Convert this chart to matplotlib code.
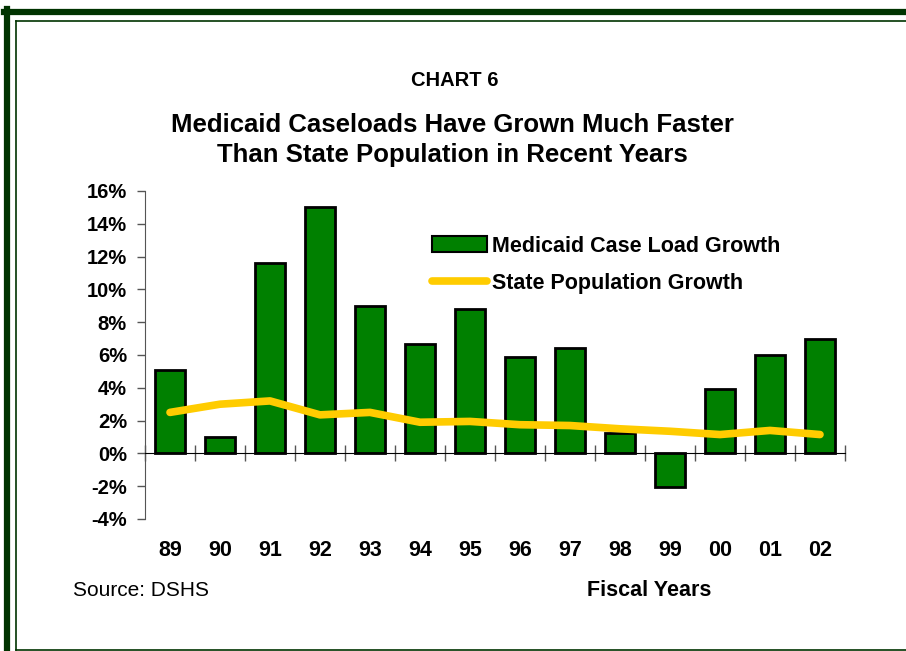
import numpy as np
import matplotlib
matplotlib.use("Agg")
import matplotlib.pyplot as plt
from matplotlib.lines import Line2D
from matplotlib.patches import Patch
import matplotlib.transforms as mtransforms

plt.rcParams['font.family'] = ['Liberation Sans', 'DejaVu Sans']

# data
years = ["89", "90", "91", "92", "93", "94", "95", "96", "97", "98", "99", "00", "01", "02"]
caseload_growth = [5.1, 1.0, 11.6, 15.0, 9.0, 6.7, 8.8, 5.85, 6.45, 1.25, -2.05, 3.95, 6.0, 6.95]
population_growth = [2.5, 3.0, 3.2, 2.35, 2.5, 1.9, 1.95, 1.75, 1.7, 1.5, 1.35, 1.15, 1.4, 1.15]
y_ticks = [-4, -2, 0, 2, 4, 6, 8, 10, 12, 14, 16]

fig = plt.figure(figsize=(9.06, 6.51), dpi=100)
W, H = 906, 651

# frame around the chart
dark = "#003300"
fig.add_artist(Line2D([4 / W, 1], [1 - 12 / H, 1 - 12 / H], color=dark, lw=4.5, transform=fig.transFigure))
fig.add_artist(Line2D([7 / W, 7 / W], [0, 1 - 9 / H], color=dark, lw=4.5, transform=fig.transFigure))
fig.add_artist(Line2D([15.5 / W, 1], [1 - 20.5 / H, 1 - 20.5 / H], color=dark, lw=1.2, transform=fig.transFigure))
fig.add_artist(Line2D([15.5 / W, 15.5 / W], [1 / H, 1 - 20.5 / H], color=dark, lw=1.2, transform=fig.transFigure))
fig.add_artist(Line2D([15.5 / W, 1], [1.5 / H, 1.5 / H], color=dark, lw=1.2, transform=fig.transFigure))

ax = fig.add_axes([145 / W, 1 - 519 / H, 700 / W, 328 / H])
x = np.arange(len(years))

ax.bar(x, caseload_growth, width=0.6, color="#008000", edgecolor="black", linewidth=2,
       zorder=2, label="Medicaid Case Load Growth")
ax.plot(x, population_growth, color="#FFCC00", lw=5.5, solid_capstyle="round",
        zorder=3, label="State Population Growth")

ax.set_xlim(-0.5, len(years) - 0.5)
ax.set_ylim(-4, 16)
ax.set_yticks(y_ticks)
ax.set_yticklabels([f"{t}%" for t in y_ticks], fontsize=14.5, fontweight="bold")
ax.tick_params(axis="y", direction="out", length=6, width=1, color="#555555", pad=7)

for s in ["top", "right"]:
    ax.spines[s].set_visible(False)
ax.spines["left"].set_color("#555555")
ax.spines["bottom"].set_position(("data", 0))
ax.spines["bottom"].set_color("black")
ax.set_xticks(np.arange(-0.5, len(years), 1))
ax.set_xticklabels([])
ax.tick_params(axis="x", direction="inout", length=11, width=1, color="#555555")

trans = mtransforms.blended_transform_factory(ax.transData, fig.transFigure)
for i, yr in enumerate(years):
    ax.text(x[i], 1 - 550 / H, yr, transform=trans, ha="center", va="center",
            fontsize=15.5, fontweight="bold")

# legend
handles = [Patch(facecolor="#008000", edgecolor="black", linewidth=1.5),
           Line2D([0], [0], color="#FFCC00", lw=5.5, solid_capstyle="round")]
ax.legend(handles, ["Medicaid Case Load Growth", "State Population Growth"],
          loc="upper left", bbox_to_anchor=(278 / 700, 1 - 36 / 328), frameon=False,
          prop={"size": 15.5, "weight": "bold"}, handlelength=2.55, handleheight=0.75,
          handletextpad=0.25, labelspacing=0.75, borderaxespad=0)

# titles and notes
fig.text(455 / W, 1 - 80 / H, "CHART 6", ha="center", va="center", fontsize=14.5, fontweight="bold")
fig.text(452 / W, 1 - 140 / H, "Medicaid Caseloads Have Grown Much Faster\nThan State Population in Recent Years",
         ha="center", va="center", fontsize=18.5, fontweight="bold", linespacing=1.35)
fig.text(73 / W, 1 - 591 / H, "Source: DSHS", ha="left", va="center", fontsize=15)
fig.text(587 / W, 1 - 591 / H, "Fiscal Years", ha="left", va="center", fontsize=15.5, fontweight="bold")

fig.savefig("out.png", dpi=100)
